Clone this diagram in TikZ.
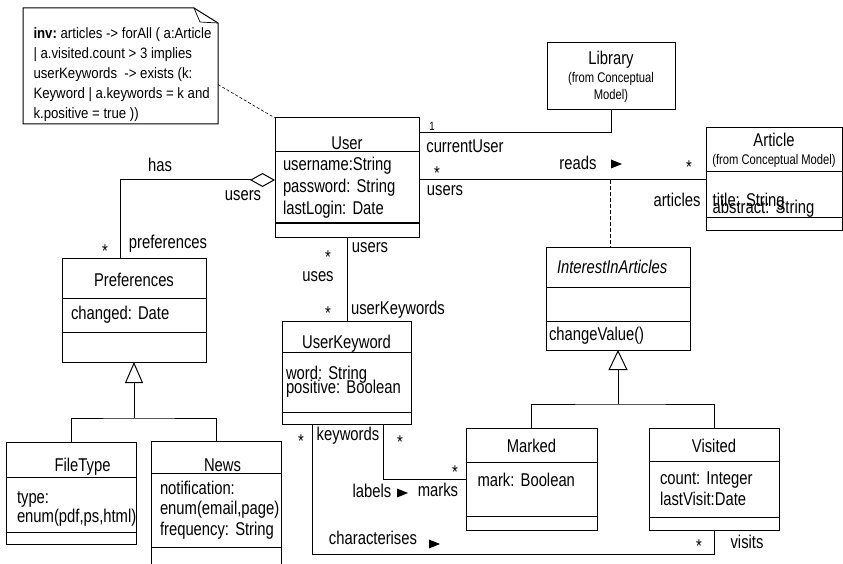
\documentclass[tikz,border=0pt]{standalone}
\usepackage{fontspec}
\setmainfont{Liberation Sans}[FakeStretch=0.8]
\newfontfamily\notefont{Liberation Sans}[FakeStretch=0.88]
\usetikzlibrary{arrows.meta, positioning}
\frenchspacing
\lineskiplimit=-\maxdimen
\normallineskiplimit=-\maxdimen
\newcommand{\umlfont}{\fontsize{18.5}{22}\selectfont}
\newcommand{\fromfont}{\fontsize{14}{16}\selectfont}
\newcommand{\dirtri}[1]{\fill (#1) ++(-5,-4.5) -- ++(11,4.5) -- ++(-11,4.5) -- cycle;}
\tikzstyle{every node}=[font=\umlfont]
\tikzstyle{cname}=[draw, rectangle, outer sep=0pt, inner sep=0pt, align=center]
\tikzstyle{cbody}=[draw, rectangle, outer sep=0pt, inner ysep=0pt, align=left]
\tikzstyle{lbl}=[inner sep=0pt]
\tikzstyle{notelink}=[dash pattern=on 3pt off 2pt, line width=0.6pt]
\tikzstyle{dep}=[dash pattern=on 4pt off 2pt]

\begin{document}
\begin{tikzpicture}[x=1pt, y=-1pt, line width=1pt]
  \useasboundingbox (0,0) rectangle (843,564);

  % constraint note
  \node[lbl, minimum width=194, minimum height=115, anchor=north west] (inv) at (23,8) {};
  \node[lbl, anchor=north west, align=left, font=\notefont\fontsize{15}{20}\selectfont] (inv-text) at (33,27)
    {{\bfseries inv:} articles -> forAll ( a:Article\\
     | a.visited.count > 3 implies\\
     userKeywords\ \ -> exists (k:\\
     Keyword | a.keywords = k and\\
     k.positive = true ))};
  \draw (inv.north west) -- ([xshift=-24pt]inv.north east) -- ([yshift=-15pt]inv.north east)
    -- (inv.south east) -- (inv.south west) -- cycle;
  \draw[line width=0.7pt] ([xshift=-24pt]inv.north east) -- ++(6,14) -- ([yshift=-15pt]inv.north east);

  % classes
  \node[cname, minimum width=128, minimum height=67, anchor=north west] (lib) at (547,43)
    {Library\\[-4pt]{\fromfont (from Conceptual}\\[-5pt]{\fromfont Model)}};

  \node[cname, minimum width=144, minimum height=34, text height=29pt, anchor=north west] (user) at (275,118) {User};
  \node[cbody, below=0pt of user, text width=128, inner xsep=8, minimum height=71] (user-attr)
    {username:String\\password: String\\lastLogin: Date};
  \node[cbody, below=0pt of user-attr, minimum width=144, minimum height=14] (user-ops) {};

  \node[cname, minimum width=136, minimum height=44, anchor=north west] (art) at (706,128)
    {Article\\[-4pt]{\fromfont (from Conceptual Model)}};
  \node[cbody, below=0pt of art, text width=122.6, inner xsep=6.7, minimum height=46, text height=34pt,
    font=\fontsize{18.5}{7.5}\selectfont] (art-attr) {title: String\\abstract: String};
  \node[cbody, below=0pt of art-attr, minimum width=136, minimum height=12] (art-ops) {};

  \node[cname, minimum width=144, minimum height=40, text height=17pt, anchor=north west] (pref) at (62,258) {Preferences};
  \node[cbody, below=0pt of pref, text width=126, inner xsep=9, minimum height=34] (pref-attr) {changed: Date};
  \node[cbody, below=0pt of pref-attr, minimum width=144, minimum height=30] (pref-ops) {};

  \node[cname, minimum width=129, minimum height=31, text height=27pt, anchor=north west] (ukw) at (282,321) {UserKeyword};
  \node[cbody, below=0pt of ukw, text width=121, inner xsep=4, minimum height=60,
    font=\fontsize{18.5}{14}\selectfont] (ukw-attr) {word: String\\positive: Boolean};
  \node[cbody, below=0pt of ukw-attr, minimum width=129, minimum height=12] (ukw-ops) {};

  \node[cname, align=left, text width=122, inner xsep=11, minimum height=40, anchor=north west,
    font=\umlfont\itshape] (ia) at (546,247) {InterestInArticles};
  \node[cbody, below=0pt of ia, minimum width=144, minimum height=34] (ia-attr) {};
  \node[cbody, below=0pt of ia-attr, text width=138, inner xsep=3, minimum height=29] (ia-ops) {changeValue()};

  \node[cname, align=left, text width=32.8, inner xsep=48.6, minimum height=35, text height=28pt,
    anchor=north west] (ftype) at (6,442) {\mbox{FileType}};
  \node[cbody, below=0pt of ftype, text width=108, inner xsep=11, minimum height=55, text height=21pt,
    font=\fontsize{18.5}{19}\selectfont] (ftype-attr) {type:\\\mbox{enum(pdf,ps,html)}};
  \node[cbody, below=0pt of ftype-attr, minimum width=130, minimum height=12] (ftype-ops) {};

  \node[cname, align=left, text width=24, inner xsep=53, minimum height=32, text height=29pt,
    anchor=north west] (news) at (151,441) {\mbox{News}};
  \node[cbody, below=0pt of news, text width=112, inner xsep=9, minimum height=74,
    font=\fontsize{18.5}{20.5}\selectfont] (news-attr)
    {notification:\\\mbox{enum(email,page)}\\\mbox{frequency: String}};
  \node[cbody, below=0pt of news-attr, minimum width=130, minimum height=18] (news-ops) {};

  \node[cname, minimum width=131, minimum height=34, text height=15pt, anchor=north west] (mark) at (466,428) {Marked};
  \node[cbody, below=0pt of mark, text width=108, inner xsep=11.5, minimum height=54, text height=13pt,
    text depth=18pt] (mark-attr) {mark: Boolean};
  \node[cbody, below=0pt of mark-attr, minimum width=131, minimum height=14] (mark-ops) {};

  \node[cname, minimum width=130, minimum height=33, text height=16pt, anchor=north west] (visit) at (649,428) {Visited};
  \node[cbody, below=0pt of visit, text width=108, inner xsep=11, minimum height=56,
    font=\fontsize{18.5}{21}\selectfont] (visit-attr) {count: Integer\\lastVisit:Date};
  \node[cbody, below=0pt of visit-attr, minimum width=130, minimum height=13] (visit-ops) {};

  % associations
  \draw[notelink] ([yshift=-18.5pt]inv.east) -- (user.north west);
  \draw (lib.south) |- ([yshift=2pt]user.east);
  \draw ([yshift=7.5pt]user-attr.east) coordinate (ra) -- coordinate[pos=.666] (rd) (ra -| art.west);
  \draw[dep] (rd) -- (rd |- ia.north);
  \draw[-{Diamond[open, length=25pt, width=14pt]}] ([xshift=-14pt]pref.north) |- (ra -| user-attr.west);
  \draw (user-ops.south) -- (user-ops.south |- ukw.north);
  \draw ([xshift=36.5pt]ukw-ops.south) |- ([yshift=10pt]mark-attr.west);
  \draw ([xshift=-34.5pt]ukw-ops.south) -- ++(0,130) -| (visit-ops.south);

  % generalisations
  \draw (ftype.north) |- ([yshift=-56pt]pref-ops.south) -| (news.north);
  \draw[-{Triangle[open, length=21pt, width=18pt]}] ([yshift=-56pt]pref-ops.south) -- (pref-ops.south);
  \draw (mark.north) |- ([yshift=-54pt]ia-ops.south) -| (visit.north);
  \draw[-{Triangle[open, length=20pt, width=19pt]}] ([yshift=-54pt]ia-ops.south) -- (ia-ops.south);

  % role names, multiplicities, association names
  \node[lbl, font=\fontsize{12}{12}\selectfont] (cu-one) at (432,126) {1};
  \node[lbl] (cu-role) at (465,146) {currentUser};
  \node[lbl] (rd-mult1) at (437,173) {*};
  \node[lbl] (rd-role1) at (445,191) {users};
  \node[lbl] (rd-name) at (578,163) {reads};
  \dirtri{616,164}
  \node[lbl] (rd-mult2) at (689,167) {*};
  \node[lbl] (rd-role2) at (677,200) {articles};
  \node[lbl] (has-name) at (160,165) {has};
  \node[lbl] (has-role1) at (243,196) {users};
  \node[lbl] (has-mult) at (105,251) {*};
  \node[lbl] (has-role2) at (168,244) {preferences};
  \node[lbl] (use-mult1) at (328,257) {*};
  \node[lbl] (use-role1) at (370,248) {users};
  \node[lbl] (use-name) at (318,277) {uses};
  \node[lbl] (use-mult2) at (328,313) {*};
  \node[lbl] (use-role2) at (398,310) {userKeywords};
  \node[lbl] (ch-mult1) at (301,441) {*};
  \node[lbl] (ch-role1) at (348,436) {keywords};
  \node[lbl] (lb-mult1) at (400,442) {*};
  \node[lbl] (lb-mult2) at (455,472) {*};
  \node[lbl] (lb-name) at (372,491) {labels};
  \dirtri{402,493}
  \node[lbl] (lb-role) at (438,490) {marks};
  \node[lbl] (ch-name) at (373,538) {characterises};
  \dirtri{434,544}
  \node[lbl] (ch-mult2) at (699,546) {*};
  \node[lbl] (ch-role2) at (747,542) {visits};
\end{tikzpicture}
\end{document}
